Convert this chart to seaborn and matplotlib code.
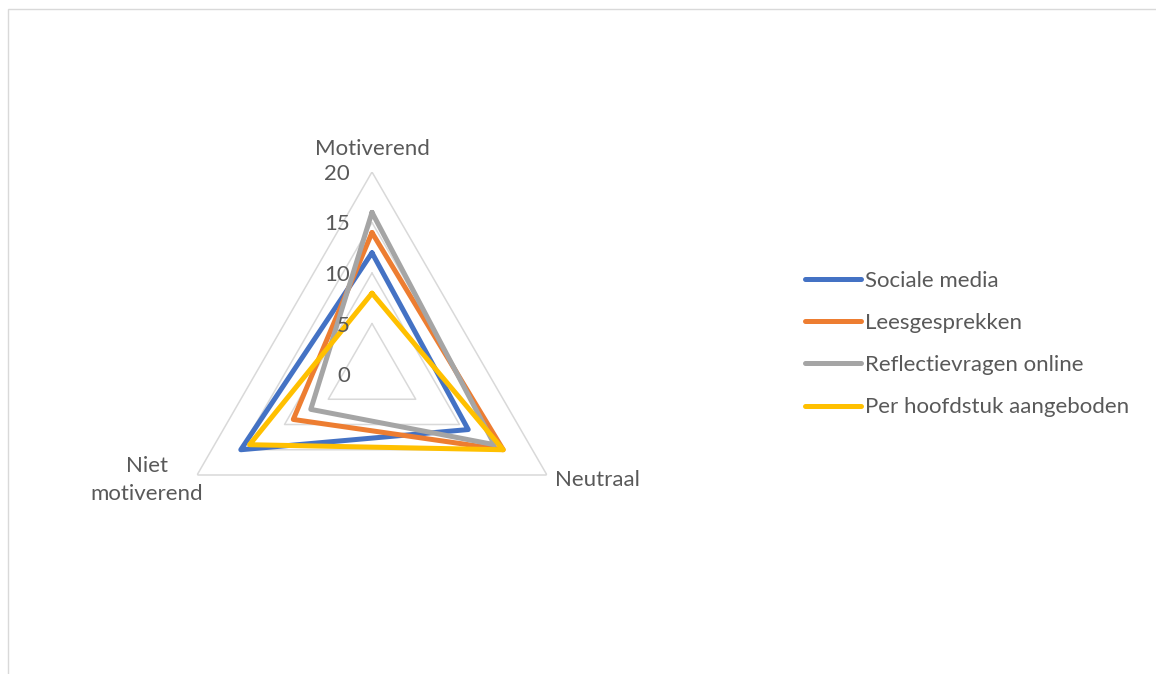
import numpy as np
import pandas as pd
import matplotlib
matplotlib.use("Agg")
import matplotlib.pyplot as plt
import matplotlib.patches as mpatches
import matplotlib.transforms as mtrans
import seaborn as sns

categories = ["Motiverend", "Neutraal", "Niet\nmotiverend"]
series_names = ["Sociale media", "Leesgesprekken", "Reflectievragen online", "Per hoofdstuk aangeboden"]
sociale_media = [12, 11, 15]
leesgesprekken = [14, 15, 9]
reflectievragen = [16, 14, 7]
per_hoofdstuk = [8, 15, 14]
tick_values = [0, 5, 10, 15, 20]
colors = ["#4472C4", "#ED7D31", "#A5A5A5", "#FFC000"]

sns.set_theme(style="white")
plt.rcParams["font.family"] = ["Lato", "DejaVu Sans"]
text_color = "#595959"
fs = 16

fig = plt.figure(figsize=(11.56, 6.74), dpi=100)
W, H = 1156, 674
# chart border
fig.patches.append(mpatches.Rectangle((8 / W, -0.05), 1.2, 1 - 9 / H + 0.05,
                                      transform=fig.transFigure, fill=False,
                                      edgecolor="#d9d9d9", linewidth=1.0))

cx, cy, R = 372, 374, 202
ax = fig.add_axes([(cx - R) / W, (H - cy - R) / H, 2 * R / W, 2 * R / H], projection="polar")
ax.set_theta_zero_location("N")
ax.set_theta_direction(-1)

n = len(categories)
angles = [2 * np.pi * i / n for i in range(n)]
closed_angles = angles + [2 * np.pi]

# grid triangles
for t in tick_values[1:]:
    ax.plot(closed_angles, [t] * (n + 1), color="#d9d9d9", linewidth=1.1, zorder=1)

rows = []
for name, vals in zip(series_names, [sociale_media, leesgesprekken, reflectievragen, per_hoofdstuk]):
    for a, v in zip(closed_angles, vals + [vals[0]]):
        rows.append({"theta": a, "r": v, "series": name})
df = pd.DataFrame(rows)

sns.lineplot(data=df, x="theta", y="r", hue="series", hue_order=series_names,
             palette=colors, sort=False, estimator=None, linewidth=3.6,
             solid_joinstyle="round", solid_capstyle="round", ax=ax, legend=False, zorder=3)

ax.set_ylim(0, 20)
ax.set_xlabel("")
ax.set_ylabel("")
ax.grid(False)
ax.spines["polar"].set_visible(False)
ax.set_xticks([])
ax.set_yticks([])
ax.set_facecolor("none")


def off(dx, dy):
    return ax.transData + mtrans.ScaledTranslation(dx, dy, fig.dpi_scale_trans)


# value tick labels
for t in tick_values:
    ax.text(0, t, str(t), transform=off(-0.22, -0.02), ha="right", va="center",
            fontsize=fs, color=text_color)

# category labels
ax.text(angles[0], 20, categories[0], transform=off(0, 0.23), ha="center", va="center",
        fontsize=fs, color=text_color)
ax.text(angles[1], 20, categories[1], transform=off(0.08, -0.05), ha="left", va="center",
        fontsize=fs, color=text_color)
ax.text(angles[2], 20, categories[2], transform=off(-0.5, -0.05), ha="center", va="center",
        fontsize=fs, color=text_color, multialignment="center", linespacing=1.45)

handles = [plt.Line2D([], [], color=c, linewidth=3.6, solid_capstyle="round") for c in colors]
fig.legend(handles, series_names, loc="center left", bbox_to_anchor=(805 / W, 1 - 344 / H),
           frameon=False, fontsize=fs, handlelength=2.5, handletextpad=0.2,
           labelspacing=1.0, borderpad=0, borderaxespad=0, labelcolor=text_color)

fig.savefig("out.png", dpi=100, facecolor="white")
